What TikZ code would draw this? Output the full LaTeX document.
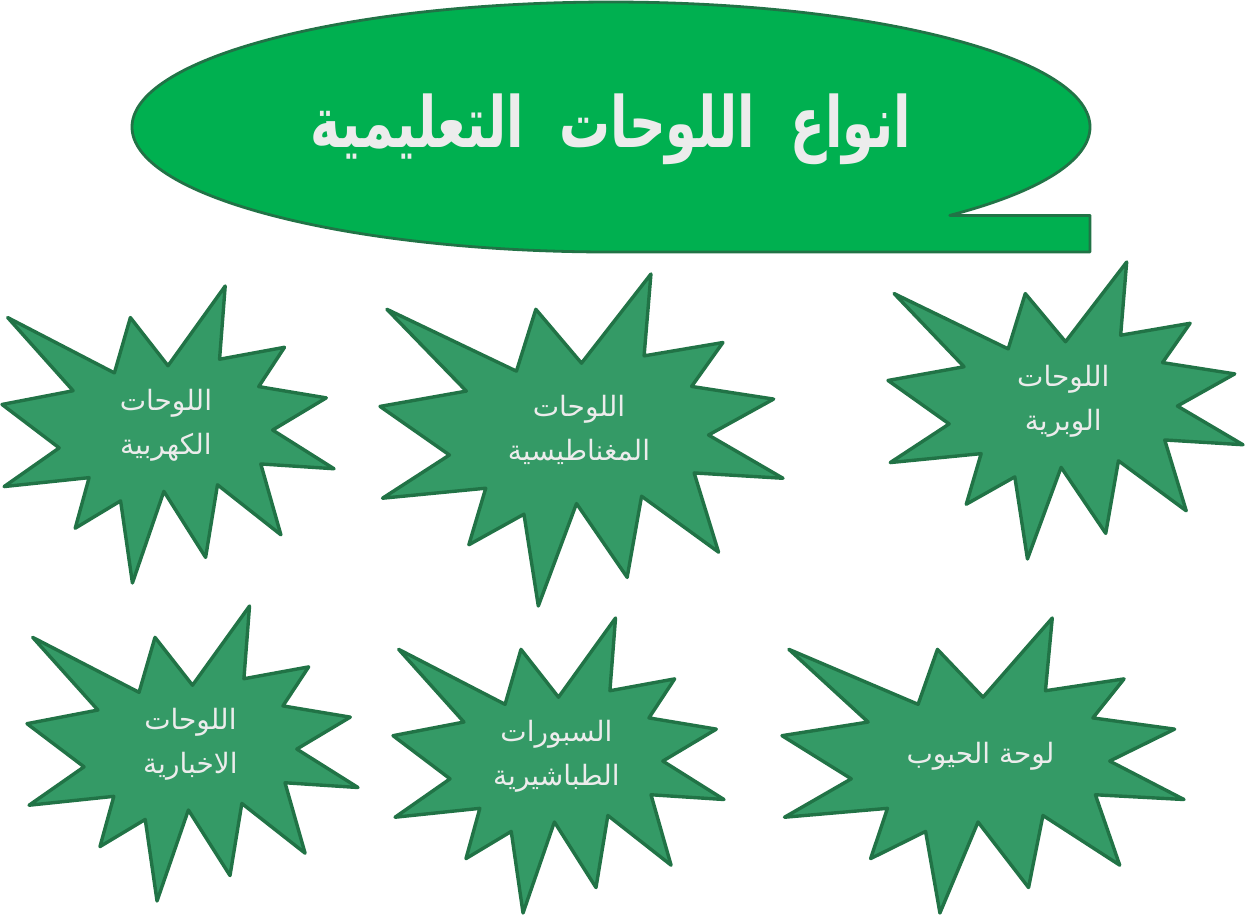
\documentclass[tikz,border=0pt]{standalone}
\usepackage{fontspec}
\usepackage{tikz}
\newfontfamily\arabicfont[Script=Arabic]{DejaVu Sans}
\TeXXeTstate=1
\definecolor{calloutgreen}{RGB}{0,176,80}
\definecolor{stargreen}{RGB}{52,154,102}
\definecolor{edgegreen}{RGB}{33,115,70}
\definecolor{labelgray}{RGB}{236,236,236}

\begin{document}
\begin{tikzpicture}[x=1pt,y=-1pt]
\tikzstyle{callout}=[draw=edgegreen, fill=calloutgreen, line width=2.8pt, line join=round]
\tikzstyle{burst}=[draw=edgegreen, fill=stargreen, line width=3.4pt, line join=round]
\tikzstyle{heading}=[text=labelgray, font=\arabicfont\bfseries\fontsize{62}{66}\selectfont, xscale=0.82, yscale=1.14, transform shape]
\tikzstyle{burstlabel}=[text=labelgray, font=\arabicfont\fontsize{28}{44}\selectfont, align=center]

\useasboundingbox (0,0) rectangle (1246,916);

% title callout
\draw[callout] (949.7,215.4) arc[start angle=45, end angle=-270, x radius=479, y radius=125]
  -- (1090,252) -- (1090,215.4) -- cycle;
\node[heading] (title) at (611,129) {\beginR انواع\ \ اللوحات\ \ التعليمية\endR};

% six explosion shapes
\foreach \bx/\by/\bw/\bh/\bname/\btext in {
  2/286/332/297/electric/{\beginR اللوحات\endR\\\beginR الكهربية\endR},
  380/274/403/332/magnetic/{\beginR اللوحات\endR\\\beginR المغناطيسية\endR},
  888/262/355/297/felt/{\beginR اللوحات\endR\\\beginR الوبرية\endR},
  27/606/331/295/bulletin/{\beginR اللوحات\endR\\\beginR الاخبارية\endR},
  393/618/331/295/chalk/{\beginR السبورات\endR\\\beginR الطباشيرية\endR},
  782/618/402/295/pocket/{\beginR لوحة الحيوب\endR}}
{
  \begin{scope}[shift={(\bx,\by)}, xscale=\bw/21.6, yscale=\bh/21.6]
    \draw[burst] (10.8,5.8) -- (14.522,0) -- (14.155,5.325) -- (18.38,4.457) -- (16.702,7.315)
      -- (21.097,8.137) -- (17.607,10.475) -- (21.6,13.29) -- (16.837,12.942) -- (18.145,18.095)
      -- (14.02,14.457) -- (13.247,19.737) -- (10.532,14.935) -- (8.485,21.6) -- (7.715,15.627)
      -- (4.762,17.617) -- (5.667,13.937) -- (0.135,14.587) -- (3.722,11.775) -- (0,8.615)
      -- (4.627,7.617) -- (0.37,2.295) -- (7.312,6.32) -- (8.352,2.295) -- cycle;
  \end{scope}
  \node[burstlabel] (\bname) at (\bx+0.4937*\bw, \by+0.469*\bh) {\btext};
}

\end{tikzpicture}
\end{document}
